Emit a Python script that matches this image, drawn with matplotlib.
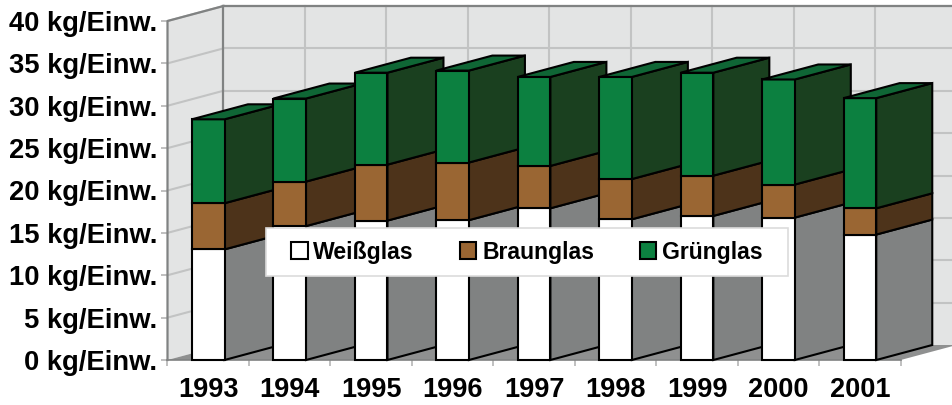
import numpy as np
import matplotlib
matplotlib.use('Agg')
import matplotlib.pyplot as plt
from matplotlib.patches import Polygon, Patch, Rectangle

# Glass collected per inhabitant, height of each stack segment
years = ['1993', '1994', '1995', '1996', '1997', '1998', '1999', '2000', '2001']
weiss = [13.05, 15.8, 16.45, 16.5, 17.9, 16.6, 17.0, 16.8, 14.8]
braun = [5.45, 5.25, 6.6, 6.8, 5.0, 4.75, 4.75, 3.9, 3.1]
gruen = [9.9, 9.8, 10.85, 10.85, 10.5, 12.05, 12.15, 12.4, 13.0]
yticks = [0, 5, 10, 15, 20, 25, 30, 35, 40]
series = ['Weißglas', 'Braunglas', 'Grünglas']

front_col = ['#ffffff', '#9a6633', '#0c8040']
side_col = ['#808282', '#4d331a', '#1a401f']
top_green = '#0f6635'
wall_col = '#e3e4e4'
grid_col = '#c2c3c3'
edge_col = '#808282'

plt.rcParams['font.family'] = ['Liberation Sans', 'DejaVu Sans']
plt.rcParams['font.weight'] = 'bold'

W, H = 953, 405
fig = plt.figure(figsize=(W / 100, H / 100), dpi=100)
left, right, bottom, top = 167.5, 900.7, 360.0, 21.0
ax = fig.add_axes([left / W, (H - bottom) / H, (right - left) / W, (bottom - top) / H])
ax.set_xlim(0, 9)
ax.set_ylim(0, 40)
ax.patch.set_visible(False)
for s in ax.spines.values():
    s.set_visible(False)

# depth of the box in data units
dx = 56 * 9 / (right - left)
dy = 15 * 40 / (bottom - top)
bar_w = 1 / 2.5


def face(pts, fc, ec='none', lw=0.0, z=1):
    ax.add_patch(Polygon(pts, closed=True, facecolor=fc, edgecolor=ec, linewidth=lw,
                         zorder=z, clip_on=False, joinstyle='miter'))


# back wall, side wall, floor
face([(dx, dy), (9 + dx, dy), (9 + dx, 40 + dy), (dx, 40 + dy)], wall_col)
face([(0, 0), (dx, dy), (dx, 40 + dy), (0, 40)], wall_col)
face([(0, 0), (9, 0), (9 + dx, dy), (dx, dy)], '#8f9090')

for v in yticks[1:]:
    ax.plot([dx, 9 + dx], [v + dy, v + dy], color=grid_col, lw=1.5, zorder=2, clip_on=False)
    ax.plot([0, dx], [v, v + dy], color=grid_col, lw=1.5, zorder=2, clip_on=False)
for k in range(1, 10):
    ax.plot([k + dx, k + dx], [dy, 40 + dy], color=grid_col, lw=1.5, zorder=2, clip_on=False)

# frame of the box
ax.plot([dx, dx], [dy, 40 + dy], color=edge_col, lw=1.6, zorder=2, clip_on=False)
ax.plot([dx, 9 + dx], [40 + dy, 40 + dy], color=edge_col, lw=1.6, zorder=2, clip_on=False)
ax.plot([0, 0, dx], [0, 40, 40 + dy], color=edge_col, lw=1.6, zorder=2, clip_on=False)
ax.plot([0, 9], [0, 0], color=edge_col, lw=1.2, zorder=2, clip_on=False)

# bars, left to right so each one hides the depth of the previous one
z = 3
for i in range(len(years)):
    x0 = i + 0.5 - bar_w / 2
    x1 = x0 + bar_w
    base = 0.0
    for j, vals in enumerate([weiss, braun, gruen]):
        h = vals[i]
        t = base + h
        face([(x1, base), (x1 + dx, base + dy), (x1 + dx, t + dy), (x1, t)],
             side_col[j], 'black', 1.5, z)
        ax.bar(x0, h, bar_w, bottom=base, align='edge', color=front_col[j],
               edgecolor='black', linewidth=1.5, zorder=z + 1, clip_on=False)
        base = t
    face([(x0, base), (x1, base), (x1 + dx, base + dy), (x0 + dx, base + dy)],
         top_green, 'black', 1.5, z + 1)
    z += 2

ax.set_xticks(np.arange(0, 10))
ax.set_xticklabels([])
ax.set_xticks(np.arange(len(years)) + 0.5, minor=True)
ax.set_xticklabels(years, minor=True, fontsize=19.5)
ax.tick_params(axis='x', which='major', length=4, color='#b5b5b5', width=1.2)
ax.tick_params(axis='x', which='minor', length=0, pad=12.5)
ax.set_yticks(yticks)
ax.set_yticklabels(['%d kg/Einw.' % v for v in yticks], fontsize=19.7)
ax.tick_params(axis='y', length=4, color='#b5b5b5', width=1.2, pad=3.5)

# legend box is wider than its content, so the frame is drawn separately
to_ax = lambda px, py: ((px - left) / (right - left), (bottom - py) / (bottom - top))
box_x, box_y = to_ax(266, 276)
box_x2, box_y2 = to_ax(788, 228)
ax.add_patch(Rectangle((box_x, box_y), box_x2 - box_x, box_y2 - box_y, transform=ax.transAxes,
                       facecolor='white', edgecolor='#dcdcdc', linewidth=1.2, zorder=49,
                       clip_on=False))
handles = [Patch(facecolor=c, edgecolor='black', linewidth=1.5) for c in front_col]
leg = ax.legend(handles, series, ncol=3, fontsize=16.6, loc='center left',
                bbox_to_anchor=to_ax(291.5, 252), borderaxespad=0, borderpad=0,
                handlelength=0.7, handleheight=0.7, handletextpad=0.25,
                columnspacing=2.0, frameon=False)
leg.set_zorder(50)

fig.savefig('out.png', dpi=100)
